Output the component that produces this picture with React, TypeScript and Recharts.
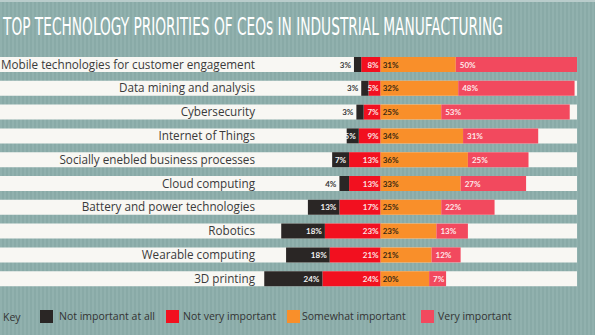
import React from "react";
import { BarChart, Bar, XAxis, YAxis, LabelList } from "recharts";

// survey: share of CEOs per priority level, in %
const categories = [
  "Mobile technologies for customer engagement",
  "Data mining and analysis",
  "Cybersecurity",
  "Internet of Things",
  "Socially enebled business processes",
  "Cloud computing",
  "Battery and power technologies",
  "Robotics",
  "Wearable computing",
  "3D printing",
];
const notAtAll = [3, 3, 3, 5, 7, 4, 13, 18, 18, 24];
const notVery = [8, 5, 7, 9, 13, 13, 17, 23, 21, 24];
const somewhat = [31, 32, 25, 34, 36, 33, 25, 23, 21, 20];
const very = [50, 48, 53, 31, 25, 27, 22, 13, 12, 7];

const legendItems = [
  { label: "Not important at all", color: "#2a2625" },
  { label: "Not very important", color: "#f2101f" },
  { label: "Somewhat important", color: "#f98f2a" },
  { label: "Very important", color: "#f2495e" },
];

// negatives stack to the left of zero (stackOffset="sign")
const data = categories.map((name, i) => ({
  name,
  notVery: -notVery[i],
  notAtAll: -notAtAll[i],
  somewhat: somewhat[i],
  very: very[i],
}));

const LABEL_FONT = "Lato, 'Open Sans', sans-serif";

type LabelKind = "black" | "red" | "orange" | "pink";

function SegmentLabel(kind: LabelKind) {
  return (props: any) => {
    const { x, y, width, height, value } = props;
    const left = Math.min(x, x + width);
    const right = Math.max(x, x + width);
    const cy = y + height / 2 + 3;
    const v = Math.abs(Number(value));
    const text = `${v}%`;
    const common = { fontSize: 8, fontWeight: 700, fontFamily: LABEL_FONT };
    if (kind === "black") {
      if (v < 5) {
        return (
          <text x={left - 3} y={cy} textAnchor="end" fill="#3a3a3a" {...common}>
            {text}
          </text>
        );
      }
      return (
        <text x={right - 3} y={cy} textAnchor="end" fill="#f4f4f4" {...common}>
          {text}
        </text>
      );
    }
    if (kind === "red") {
      return (
        <text x={right - 2} y={cy} textAnchor="end" fill="#fbe3e3" {...common}>
          {text}
        </text>
      );
    }
    if (kind === "orange") {
      return (
        <text x={left + 2} y={cy} textAnchor="start" fill="#3b2a12" {...common}>
          {text}
        </text>
      );
    }
    return (
      <text x={left + 4} y={cy} textAnchor="start" fill="#fde8ea" {...common}>
        {text}
      </text>
    );
  };
}

// category names sit on the white row, right-aligned left of the bars
function CategoryLabel(props: any) {
  const { y, height, value } = props;
  return (
    <text
      x={255}
      y={y + height / 2 + 4}
      textAnchor="end"
      fill="#3a3a3a"
      fontSize={11.7}
      fontFamily="'Open Sans', sans-serif"
    >
      {value}
    </text>
  );
}

export default function App() {
  return (
    <div
      style={{
        position: "absolute",
        left: 0,
        top: 0,
        width: 595,
        height: 335,
        overflow: "hidden",
        background:
          "repeating-linear-gradient(90deg, #91b1ae 0px, #91b1ae 2px, #89aaa7 2px, #89aaa7 4px)",
      }}
    >
      <svg width={595} height={50} style={{ position: "absolute", left: 0, top: 0 }}>
        <rect x={0} y={0} width={595} height={2} fill="#b9cccb" />
        {/* narrow title: set small, then stretched tall */}
        <text
          transform="translate(3,35) scale(1,1.8)"
          fill="#ffffff"
          fontSize={14}
          fontFamily="'DejaVu Sans Condensed', 'Liberation Sans Narrow', sans-serif"
          style={{ fontStretch: "condensed" }}
          textLength={500}
          lengthAdjust="spacingAndGlyphs"
        >
          TOP TECHNOLOGY PRIORITIES OF CEOs IN INDUSTRIAL MANUFACTURING
        </text>
      </svg>

      <div style={{ position: "absolute", left: 0, top: 0 }}>
        <BarChart
          width={595}
          height={335}
          data={data}
          layout="vertical"
          stackOffset="sign"
          barSize={15}
          margin={{ top: 53, right: 18, bottom: 44, left: 0 }}
        >
          <XAxis type="number" domain={[-157, 81]} hide />
          <YAxis type="category" dataKey="name" hide />
          <Bar
            dataKey="notVery"
            stackId="a"
            fill={legendItems[1].color}
            background={{ fill: "#f8f7f3" }}
            isAnimationActive={false}
          >
            <LabelList dataKey="notVery" content={SegmentLabel("red")} />
          </Bar>
          <Bar dataKey="notAtAll" stackId="a" fill={legendItems[0].color} isAnimationActive={false}>
            <LabelList dataKey="notAtAll" content={SegmentLabel("black")} />
          </Bar>
          <Bar dataKey="somewhat" stackId="a" fill={legendItems[2].color} isAnimationActive={false}>
            <LabelList dataKey="somewhat" content={SegmentLabel("orange")} />
          </Bar>
          <Bar dataKey="very" stackId="a" fill={legendItems[3].color} isAnimationActive={false}>
            <LabelList dataKey="very" content={SegmentLabel("pink")} />
            <LabelList dataKey="name" content={CategoryLabel} />
          </Bar>
        </BarChart>
      </div>

      <div
        style={{
          position: "absolute",
          left: 0,
          top: 308,
          width: 595,
          height: 18,
          fontFamily: "'Open Sans', sans-serif",
          fontSize: 10.5,
          color: "#333",
        }}
      >
        <span style={{ position: "absolute", left: 3, top: 2 }}>Key</span>
        {legendItems.map((item, i) => {
          const lefts = [40, 166, 287, 421];
          return (
            <div
              key={item.label}
              style={{ position: "absolute", left: lefts[i], top: 0, display: "flex", alignItems: "center" }}
            >
              <span style={{ width: 13, height: 13, background: item.color, display: "inline-block" }} />
              <span style={{ marginLeft: i === 0 ? 6 : i === 2 ? 2 : 4, lineHeight: "17px" }}>{item.label}</span>
            </div>
          );
        })}
      </div>
    </div>
  );
}
